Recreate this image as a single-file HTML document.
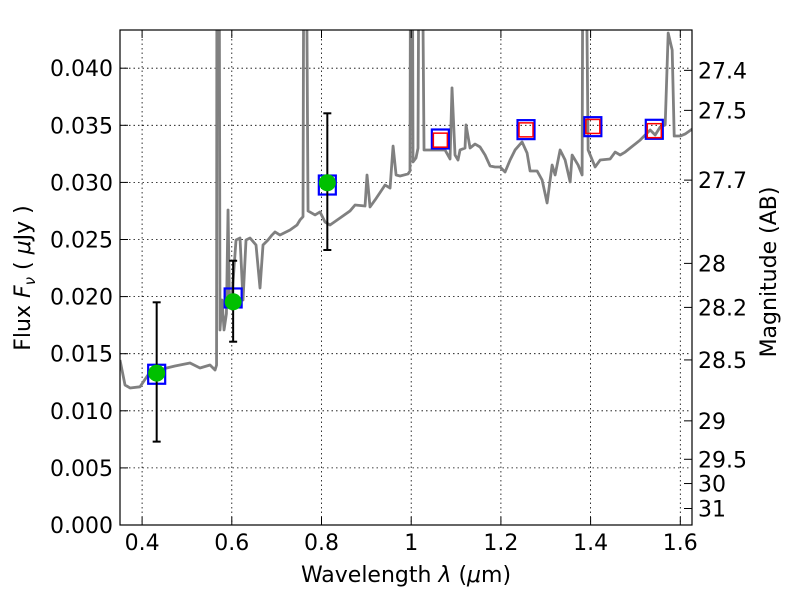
<!DOCTYPE html>
<html><head><meta charset="utf-8"><style>
body{margin:0;background:#fff;}
svg text{font-family:"DejaVu Sans","Liberation Sans",sans-serif;font-size:22px;fill:#000;}
</style></head><body>
<svg id="chart" width="800" height="600" xmlns="http://www.w3.org/2000/svg">
<defs><clipPath id="clip"><rect x="120" y="30" width="572" height="495"/></clipPath></defs>
<rect x="0" y="0" width="800" height="600" fill="#fff"/>
<g id="grid"></g>
<g id="plot" clip-path="url(#clip)"></g>
<rect x="120" y="30" width="572" height="495" fill="none" stroke="#000" stroke-width="1.2"/>
<g id="axes"></g>
<text x="406" y="582" text-anchor="middle">Wavelength  <tspan font-style="italic">λ</tspan> (<tspan font-style="italic">μ</tspan>m)</text>
<text transform="translate(30,278) rotate(-90)" text-anchor="middle">Flux  <tspan font-style="italic">F</tspan><tspan font-style="italic" font-size="15" dy="5">ν</tspan><tspan dy="-5">  ( </tspan><tspan font-style="italic">μ</tspan>Jy )</text>
<text transform="translate(776,272) rotate(-90)" text-anchor="middle">Magnitude (AB)</text>
</svg>
<script>
const specWave=[0.3507,0.3619,0.3730,0.3953,0.4176,0.4733,0.5068,0.5291,0.5514,0.5626,0.5660,0.5670,0.5715,0.5737,0.5782,0.5827,0.5880,0.5916,0.5950,0.6004,0.6094,0.6183,0.6250,0.6317,0.6406,0.6540,0.6629,0.6696,0.6807,0.6896,0.6963,0.7075,0.7298,0.7454,0.7521,0.7588,0.7610,0.7650,0.7700,0.7856,0.7967,0.8079,0.8190,0.8413,0.8636,0.8748,0.8971,0.9015,0.9082,0.9194,0.9417,0.9529,0.9596,0.9663,0.9752,0.9929,0.9973,0.9990,1.0020,1.0041,1.0107,1.0152,1.0180,1.0230,1.0286,1.0419,1.0531,1.0754,1.0866,1.0910,1.0977,1.1044,1.1089,1.1200,1.1223,1.1312,1.1424,1.1535,1.1647,1.1758,1.1870,1.1982,1.2093,1.2205,1.2316,1.2472,1.2584,1.2651,1.2807,1.2919,1.3030,1.3142,1.3209,1.3320,1.3432,1.3544,1.3588,1.3722,1.3811,1.3833,1.3878,1.3945,1.4101,1.4213,1.4436,1.4548,1.4659,1.4771,1.4882,1.5105,1.5217,1.5328,1.5440,1.5551,1.5663,1.5730,1.5819,1.5864,1.5998,1.6109,1.6266];
const specFlux=[0.01445,0.01226,0.0120,0.0121,0.0134,0.01392,0.01419,0.01375,0.01401,0.01357,0.0140,0.06,0.06,0.01708,0.0197,0.01708,0.0185,0.02758,0.0190,0.0200,0.02496,0.02513,0.0197,0.02496,0.02513,0.02452,0.02075,0.02452,0.02496,0.02539,0.02566,0.02539,0.02583,0.02627,0.02671,0.0270,0.06,0.06,0.0275,0.02715,0.02741,0.02653,0.02627,0.02688,0.0275,0.02802,0.02793,0.03065,0.02785,0.02846,0.02977,0.02951,0.03319,0.03065,0.03056,0.03074,0.0310,0.06,0.06,0.03179,0.03214,0.0330,0.06,0.06,0.03284,0.03284,0.03284,0.03284,0.03205,0.03827,0.0324,0.03196,0.03284,0.03301,0.03503,0.03301,0.03336,0.0331,0.0324,0.03144,0.03135,0.03135,0.03091,0.03196,0.03284,0.03354,0.03257,0.031,0.031,0.03021,0.0282,0.03152,0.03065,0.03284,0.03196,0.03004,0.0324,0.03152,0.03065,0.06,0.06,0.03284,0.03135,0.03196,0.03205,0.03266,0.0324,0.03266,0.03301,0.03371,0.03415,0.03459,0.03415,0.03485,0.03503,0.04308,0.04159,0.03406,0.03406,0.03424,0.03468];
const photWave=[0.4325,0.603,0.813];
const photFlux=[0.0133,0.01955,0.02997];
const photErrLo=[0.0073,0.01605,0.02408];
const photErrHi=[0.0195,0.02314,0.03605];
const modelWave=[0.4325,0.603,0.813,1.065,1.256,1.405,1.542];
const modelFlux=[0.0132,0.01988,0.02977,0.0338,0.03462,0.03488,0.03465];
const predWave=[1.065,1.256,1.405,1.542];
const predFlux=[0.0337,0.0346,0.0349,0.03453];
const xTicks=[0.4,0.6,0.8,1.0,1.2,1.4,1.6];
const xTickLabels=["0.4","0.6","0.8","1","1.2","1.4","1.6"];
const yTicks=[0,0.005,0.01,0.015,0.02,0.025,0.03,0.035,0.04];
const yTickLabels=["0.000","0.005","0.010","0.015","0.020","0.025","0.030","0.035","0.040"];
const magTicks=[27.4,27.5,27.7,28,28.2,28.5,29,29.5,30,31];
const magTickLabels=["27.4","27.5","27.7","28","28.2","28.5","29","29.5","30","31"];

const NS="http://www.w3.org/2000/svg";
const X=v=>142.1+(v-0.4)*448.5;
const Y=v=>525-v*11420;
const magToFlux=m=>Math.pow(10,(23.9-m)/2.5);
function mk(parent,tag,attrs){const e=document.createElementNS(NS,tag);for(const k in attrs)e.setAttribute(k,attrs[k]);parent.appendChild(e);return e;}
const grid=document.getElementById('grid'),plot=document.getElementById('plot'),axes=document.getElementById('axes');
xTicks.forEach((t,i)=>{
  const g=mk(grid,'line',{x1:X(t),x2:X(t),y1:30,y2:525,stroke:'#000','stroke-width':0.8,'stroke-dasharray':'1.5,3'});
  
  
  mk(axes,'line',{x1:X(t),x2:X(t),y1:525,y2:517,stroke:'#000'});
  mk(axes,'line',{x1:X(t),x2:X(t),y1:30,y2:38,stroke:'#000'});
  const l=mk(axes,'text',{x:X(t),y:550,'text-anchor':'middle'});l.textContent=xTickLabels[i];
  
  
});
yTicks.forEach((t,i)=>{
  const g=mk(grid,'line',{x1:120,x2:692,y1:Y(t),y2:Y(t),stroke:'#000','stroke-width':0.8,'stroke-dasharray':'1.5,3'});
  
  
  mk(axes,'line',{x1:120,x2:128,y1:Y(t),y2:Y(t),stroke:'#000'});
  const l=mk(axes,'text',{x:113,y:Y(t)+8,'text-anchor':'end'});l.textContent=yTickLabels[i];
  
  
});
magTicks.forEach((m,i)=>{
  const y=Y(magToFlux(m));
  mk(axes,'line',{x1:692,x2:684,y1:y,y2:y,stroke:'#000'});
  const l=mk(axes,'text',{x:698,y:y+8,'text-anchor':'start'});l.textContent=magTickLabels[i];
  
  
});
const sp=mk(plot,'polyline',{points:specWave.map((w,i)=>X(w)+','+Y(specFlux[i])).join(' '),fill:'none',stroke:'#808080','stroke-width':2.8,'stroke-linejoin':'round'});


modelWave.forEach((w,i)=>{
  const r=mk(plot,'rect',{x:X(w)-8.5,y:Y(modelFlux[i])-9.5,width:17,height:19,fill:'none',stroke:'#0000ff','stroke-width':2.2});
  
  
});
predWave.forEach((w,i)=>{
  const r=mk(plot,'rect',{x:X(w)-7,y:Y(predFlux[i])-7,width:14,height:14,fill:'none',stroke:'#ff0000','stroke-width':1.5});
  
  
});
photWave.forEach((w,i)=>{
  const x=X(w);
  const e=mk(plot,'line',{x1:x,x2:x,y1:Y(photErrLo[i]),y2:Y(photErrHi[i]),stroke:'#000','stroke-width':2});
  
  
  mk(plot,'line',{x1:x-4,x2:x+4,y1:Y(photErrLo[i]),y2:Y(photErrLo[i]),stroke:'#000','stroke-width':2});
  mk(plot,'line',{x1:x-4,x2:x+4,y1:Y(photErrHi[i]),y2:Y(photErrHi[i]),stroke:'#000','stroke-width':2});
  const c=mk(plot,'circle',{cx:x,cy:Y(photFlux[i]),r:8.5,fill:'#00c000'});
  
  
});
</script>
</body></html>
